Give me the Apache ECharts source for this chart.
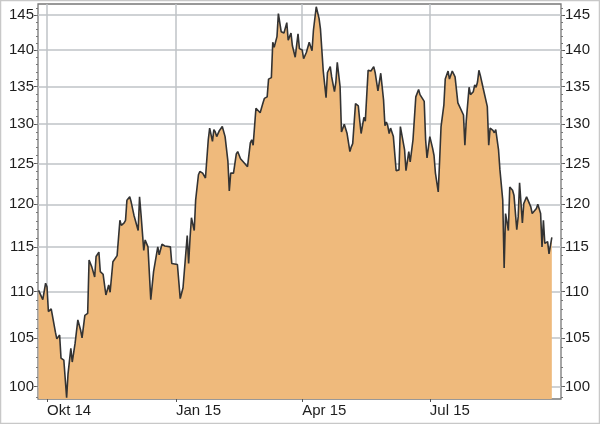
<!DOCTYPE html>
<html><head><meta charset="utf-8">
<script src="https://cdn.jsdelivr.net/npm/echarts@6/dist/echarts.min.js"></script>
<style>html,body{margin:0;padding:0;background:#fff}#c{width:600px;height:424px}</style>
</head><body><div id="c"></div>
<script>
const dates = ['2014-09-25','2014-09-26','2014-09-28','2014-09-30','2014-10-01','2014-10-02','2014-10-04','2014-10-07','2014-10-08','2014-10-10','2014-10-11','2014-10-12','2014-10-13','2014-10-15','2014-10-16','2014-10-18','2014-10-19','2014-10-21','2014-10-23','2014-10-25','2014-10-26','2014-10-28','2014-10-30','2014-10-31','2014-11-02','2014-11-04','2014-11-05','2014-11-07','2014-11-08','2014-11-09','2014-11-10','2014-11-12','2014-11-14','2014-11-15','2014-11-17','2014-11-20','2014-11-22','2014-11-23','2014-11-25','2014-11-26','2014-11-27','2014-11-29','2014-11-30','2014-12-02','2014-12-03','2014-12-05','2014-12-06','2014-12-07','2014-12-09','2014-12-10','2014-12-12','2014-12-14','2014-12-16','2014-12-17','2014-12-19','2014-12-20','2014-12-22','2014-12-24','2014-12-28','2014-12-29','2015-01-02','2015-01-04','2015-01-06','2015-01-07','2015-01-09','2015-01-10','2015-01-11','2015-01-12','2015-01-14','2015-01-15','2015-01-17','2015-01-18','2015-01-20','2015-01-22','2015-01-24','2015-01-25','2015-01-27','2015-01-28','2015-01-29','2015-01-30','2015-02-01','2015-02-03','2015-02-05','2015-02-07','2015-02-08','2015-02-09','2015-02-11','2015-02-13','2015-02-14','2015-02-16','2015-02-17','2015-02-19','2015-02-21','2015-02-23','2015-02-24','2015-02-25','2015-02-27','2015-02-28','2015-03-02','2015-03-04','2015-03-05','2015-03-07','2015-03-08','2015-03-10','2015-03-11','2015-03-12','2015-03-14','2015-03-15','2015-03-17','2015-03-18','2015-03-19','2015-03-21','2015-03-22','2015-03-24','2015-03-25','2015-03-27','2015-03-28','2015-03-29','2015-03-30','2015-04-01','2015-04-02','2015-04-04','2015-04-06','2015-04-08','2015-04-09','2015-04-11','2015-04-13','2015-04-14','2015-04-15','2015-04-16','2015-04-18','2015-04-19','2015-04-21','2015-04-22','2015-04-24','2015-04-25','2015-04-26','2015-04-28','2015-04-29','2015-05-01','2015-05-02','2015-05-03','2015-05-05','2015-05-06','2015-05-07','2015-05-09','2015-05-11','2015-05-12','2015-05-13','2015-05-15','2015-05-16','2015-05-18','2015-05-20','2015-05-22','2015-05-23','2015-05-25','2015-05-27','2015-05-29','2015-05-30','2015-05-31','2015-06-01','2015-06-02','2015-06-03','2015-06-05','2015-06-07','2015-06-09','2015-06-10','2015-06-11','2015-06-13','2015-06-14','2015-06-16','2015-06-17','2015-06-19','2015-06-20','2015-06-21','2015-06-23','2015-06-24','2015-06-27','2015-06-28','2015-06-29','2015-07-01','2015-07-03','2015-07-04','2015-07-05','2015-07-07','2015-07-08','2015-07-09','2015-07-11','2015-07-12','2015-07-14','2015-07-15','2015-07-17','2015-07-18','2015-07-19','2015-07-21','2015-07-22','2015-07-25','2015-07-26','2015-07-27','2015-07-29','2015-07-30','2015-08-01','2015-08-02','2015-08-03','2015-08-04','2015-08-05','2015-08-06','2015-08-08','2015-08-09','2015-08-11','2015-08-12','2015-08-13','2015-08-15','2015-08-16','2015-08-17','2015-08-19','2015-08-20','2015-08-22','2015-08-23','2015-08-24','2015-08-26','2015-08-27','2015-08-29','2015-08-30','2015-09-01','2015-09-02','2015-09-03','2015-09-05','2015-09-06','2015-09-08','2015-09-09','2015-09-11','2015-09-12','2015-09-13','2015-09-15','2015-09-16','2015-09-18','2015-09-19','2015-09-20','2015-09-21','2015-09-23','2015-09-24','2015-09-26'];
const values = [110.1,110.0,109.1,110.9,110.5,107.8,108.1,105.6,104.9,105.3,102.9,103.0,102.7,98.9,101.3,103.9,102.5,104.4,106.9,105.8,105.0,107.4,107.6,113.5,112.7,111.6,113.9,114.4,112.2,112.1,111.9,109.6,110.7,109.9,113.3,114.0,118.1,117.5,117.8,118.1,120.5,120.9,120.3,118.7,118.9,116.9,120.9,118.9,114.6,115.8,115.0,109.1,112.2,112.3,115.0,114.1,115.3,115.1,115.0,113.1,113.0,109.2,110.4,110.5,116.3,113.1,116.0,118.4,116.9,120.5,123.6,124.0,123.8,123.2,128.0,129.5,127.8,129.3,129.0,128.4,129.2,129.7,128.4,125.3,121.6,123.8,123.8,126.2,126.5,125.6,125.6,125.0,124.6,127.6,128.0,127.3,132.1,131.9,131.5,132.8,133.4,133.6,136.0,136.2,141.1,140.4,141.9,145.2,142.6,142.6,142.4,143.9,141.4,142.4,140.6,139.0,139.1,142.3,140.2,140.0,138.8,139.7,141.1,139.9,142.8,146.2,144.5,143.0,142.8,137.1,133.5,136.9,137.7,136.3,134.3,135.6,138.3,135.0,129.0,130.0,130.0,128.8,126.5,127.1,127.5,132.7,132.4,130.5,128.8,130.9,130.4,137.2,137.1,137.7,136.9,134.4,136.8,133.2,129.8,130.3,129.8,128.8,129.5,128.4,124.1,124.2,129.7,129.8,126.7,124.1,126.5,125.2,128.0,127.8,133.6,134.6,133.9,133.0,128.0,125.7,128.4,126.9,126.0,123.8,121.5,125.4,129.7,132.5,136.0,137.1,136.0,137.1,136.9,136.3,132.8,132.7,131.2,127.3,130.5,134.9,133.9,134.3,135.2,134.9,135.6,137.2,136.5,134.8,134.6,132.3,127.3,129.5,129.2,128.9,129.3,126.7,124.2,120.5,112.6,118.9,116.9,122.1,121.7,121.1,117.0,118.5,122.6,117.8,120.1,120.9,120.7,119.7,118.9,118.8,119.5,120.0,118.9,115.0,118.1,115.4,115.6,114.2,116.1];
const yTickValues = [100,105,110,115,120,125,130,135,140,145];
const yMinorTickValues = [99,100,101,102,103,104,105,106,107,108,109,110,111,112,113,114,115,116,117,118,119,120,121,122,123,124,125,126,127,128,129,130,131,132,133,134,135,136,137,138,139,140,141,142,143,144,145,146];
const xTickDates = ['2014-10-01','2015-01-01','2015-04-01','2015-07-01'];
const xTickLabels = ['Okt 14','Jan 15','Apr 15','Jul 15'];
const xMin = '2014-09-24 14:00', xMax = '2015-10-02 13:00';
const yMin = 98.78, yMax = 146.6;

const chart = echarts.init(document.getElementById('c'), null, {renderer:'canvas'});
const ts = d => +echarts.time.parse(d);
const xTickTs = xTickDates.map(ts);
const font = {fontFamily:'Liberation Sans, Arial, sans-serif', fontSize:15, color:'#1e1e1e'};
function yAxisDef(pos, major){
  return {
    type:'log', logBase:10, min:yMin, max:yMax, position:pos,
    axisLine:{show:false},
    axisTick:{show:true, inside:false, length: major?4:2, customValues: major?yTickValues:yMinorTickValues, lineStyle:{color: major?'#555':'#777', width:1}},
    axisLabel:{show:major, customValues:yTickValues, margin:4, ...font, formatter:v=>String(Math.round(v))},
    splitLine:{show: major && pos==='left', lineStyle:{color:'#bfc3c7', width:1.5}},
    minorTick:{show:false}, minorSplitLine:{show:false}
  };
}
chart.setOption({
  animation:false,
  grid:{left:38, right:39, top:4, bottom:25, show:true, borderColor:'#777', borderWidth:1.3, containLabel:false},
  graphic:[{type:'rect', shape:{x:0.5,y:0.5,width:599,height:423}, style:{fill:'none', stroke:'#c8c8c8', lineWidth:1.5}, silent:true}],
  xAxis:{
    type:'value', min:ts(xMin), max:ts(xMax),
    axisLine:{show:false},
    axisTick:{show:true, length:3, customValues:xTickTs, lineStyle:{color:'#555'}},
    axisLabel:{customValues:xTickTs, align:'left', margin:4, ...font,
      formatter:(v)=>{ const i = xTickTs.findIndex(t=>Math.abs(t-v)<86400000); return i>=0?xTickLabels[i]:''; }},
    splitLine:{show:true, lineStyle:{color:'#bfc3c7', width:1.5}}
  },
  yAxis:[yAxisDef('left',true), yAxisDef('left',false), yAxisDef('right',true), yAxisDef('right',false)],
  series:[{
    type:'line', xAxisIndex:0, yAxisIndex:0, showSymbol:false, symbol:'none',
    data: dates.map((d,i)=>[ts(d), values[i]]),
    lineStyle:{color:'#333', width:1.6},
    areaStyle:{color:'#EFBA7C', opacity:1, origin:'start'},
    z:3
  }]
});
</script></body></html>
